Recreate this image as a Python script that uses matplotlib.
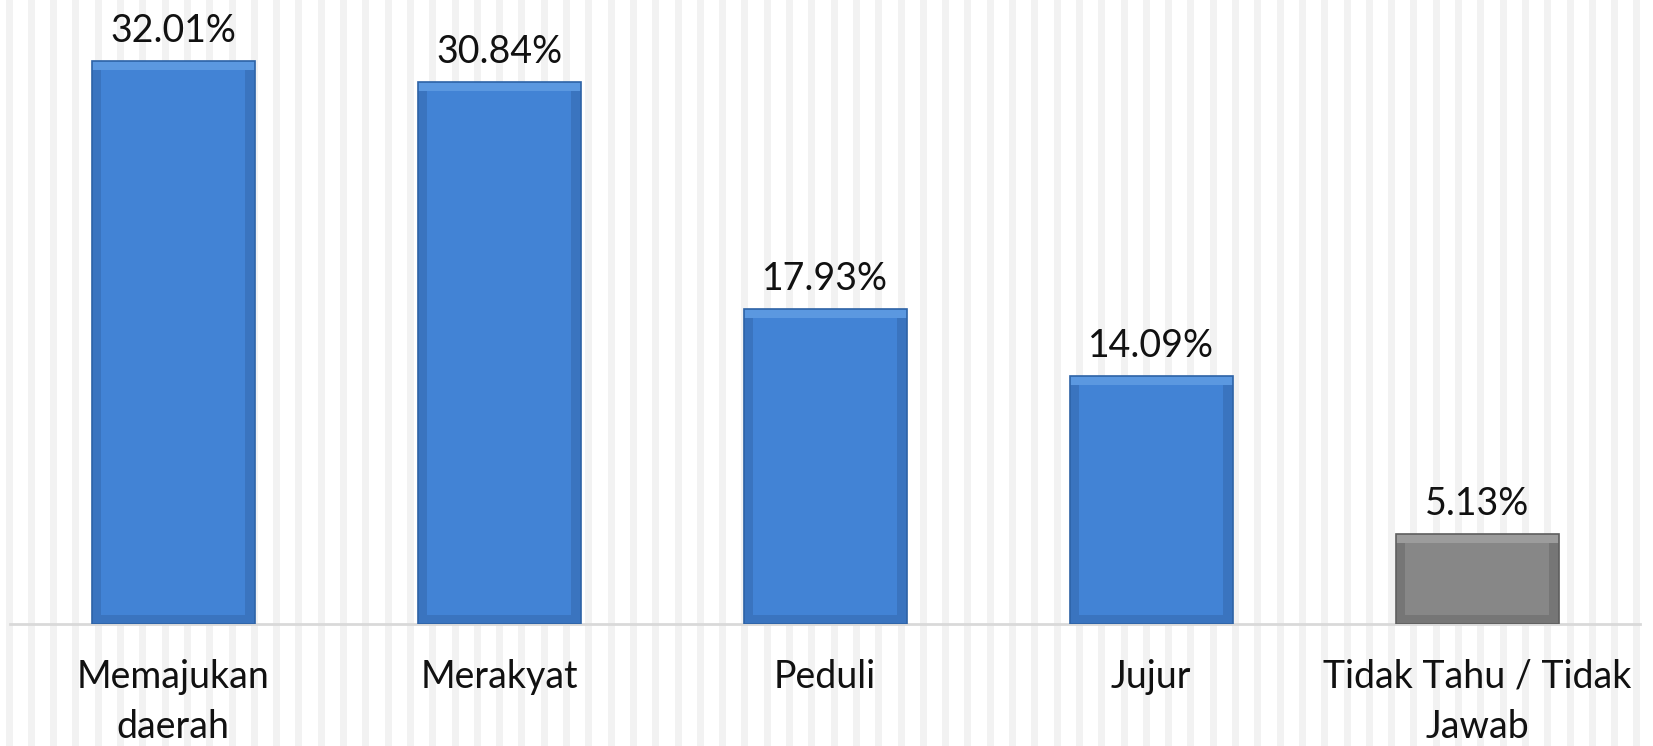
import matplotlib

matplotlib.use("Agg")

import matplotlib.pyplot as plt
import numpy as np

categories = ["Memajukan\ndaerah", "Merakyat", "Peduli", "Jujur", "Tidak Tahu / Tidak\nJawab"]
values = [32.01, 30.84, 17.93, 14.09, 5.13]
value_labels = ["32.01%", "30.84%", "17.93%", "14.09%", "5.13%"]
face_colors = ["#4283d5", "#4283d5", "#4283d5", "#4283d5", "#878787"]
edge_colors = ["#2d62a6", "#2d62a6", "#2d62a6", "#2d62a6", "#5e5e5e"]
light_colors = ["#5b98e0", "#5b98e0", "#5b98e0", "#5b98e0", "#9c9c9c"]
dark_colors = ["#3a74bf", "#3a74bf", "#3a74bf", "#3a74bf", "#767676"]

plt.rcParams["font.family"] = ["Lato", "DejaVu Sans"]

W, H = 1653, 746
fig = plt.figure(figsize=(W / 100, H / 100), dpi=100)

# striped background over the whole figure
bg = fig.add_axes([0, 0, 1, 1])
bg.set_xlim(0, W)
bg.set_ylim(0, H)
stripe_x = np.arange(5.5, W, 22.3)
bg.bar(stripe_x, H, width=7, align="edge", color="#f2f2f2", linewidth=0)
bg.axis("off")

ax = fig.add_axes([10 / W, 122 / H, 1630 / W, 624 / H])
ax.patch.set_alpha(0)
x = np.arange(len(categories))
vals = np.array(values)
width = 0.5
side = 0.03
band = 0.5

ax.bar(x, vals, width=width, color=face_colors, linewidth=0, zorder=2)
# bevel: darker sides and bottom, lighter top
ax.bar(x - width / 2 + side / 2, vals, width=side, color=dark_colors, linewidth=0, zorder=3)
ax.bar(x + width / 2 - side / 2, vals, width=side, color=dark_colors, linewidth=0, zorder=3)
ax.bar(x, band, width=width, color=dark_colors, linewidth=0, zorder=3)
ax.bar(x, band, bottom=vals - band, width=width, color=light_colors, linewidth=0, zorder=4)
ax.bar(x, vals, width=width, fill=False, edgecolor=edge_colors, linewidth=1.2, zorder=5)

for xi, v, lab in zip(x, values, value_labels):
    ax.text(xi, v + 0.7, lab, ha="center", va="bottom", fontsize=27, color="#111111")

ax.set_xlim(-0.5, len(categories) - 0.5)
ax.set_ylim(0, 35.5)
ax.set_yticks([])
ax.set_xticks(x)
ax.set_xticklabels(categories, fontsize=27, color="#111111", linespacing=1.5)
ax.tick_params(axis="x", length=0, pad=25)
for s in ["top", "right", "left"]:
    ax.spines[s].set_visible(False)
ax.spines["bottom"].set_color("#d9d9d9")
ax.spines["bottom"].set_linewidth(2)
ax.spines["bottom"].set_zorder(1)

fig.savefig("out.png", dpi=100)
